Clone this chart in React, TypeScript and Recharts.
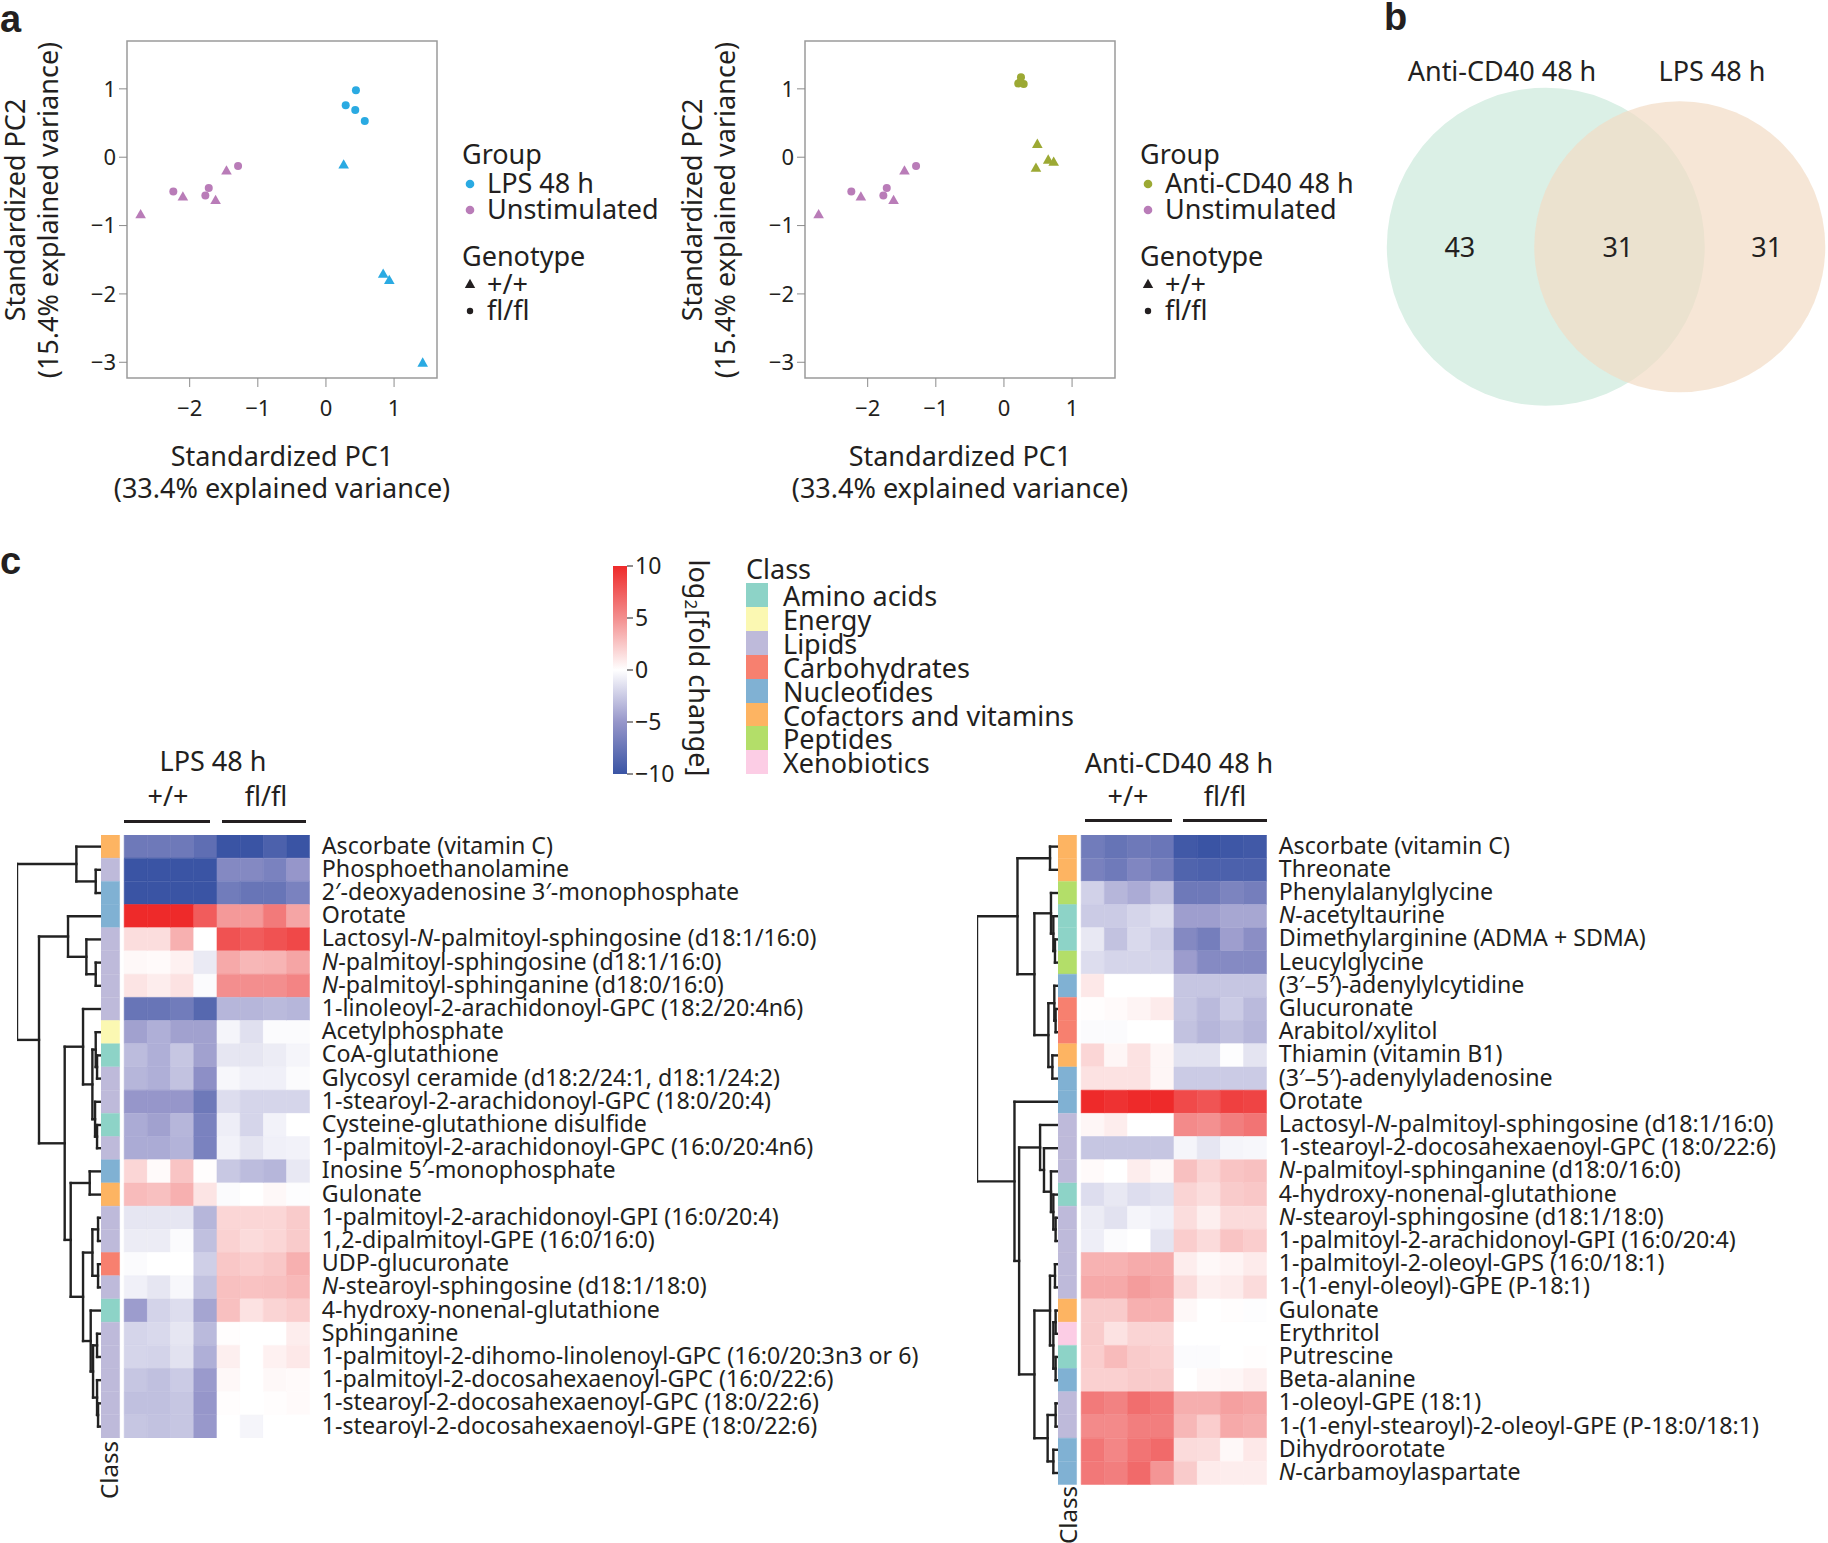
import React from "react";
import { ScatterChart, Scatter, XAxis, YAxis, ReferenceArea, ReferenceLine, BarChart, Bar, Cell } from "recharts";

const FONT = "'Noto Sans', 'DejaVu Sans', sans-serif";
const INK = "#231f20";
const BLUE = "#2aaae2";
const PURPLE = "#b97cb8";
const OLIVE = "#9ca934";

// ---------- a: PCA ----------
const pcaX: [number, number] = [-2.92, 1.63];
const pcaY: [number, number] = [-3.23, 1.7];
const pcaXTicks = [-2, -1, 0, 1];
const pcaYTicks = [-3, -2, -1, 0, 1];

const lpsWt = [{ x: 0.26, y: -0.11 }, { x: 0.84, y: -1.71 }, { x: 0.93, y: -1.8 }, { x: 1.42, y: -3.01 }];
const lpsFl = [{ x: 0.44, y: 0.98 }, { x: 0.29, y: 0.76 }, { x: 0.43, y: 0.69 }, { x: 0.57, y: 0.53 }];
const cd40Wt = [{ x: 0.49, y: 0.19 }, { x: 0.65, y: -0.04 }, { x: 0.73, y: -0.07 }, { x: 0.47, y: -0.16 }];
const cd40Fl = [{ x: 0.25, y: 1.17 }, { x: 0.21, y: 1.08 }, { x: 0.29, y: 1.07 }, { x: 0.24, y: 1.1 }];
const unstimWt = [{ x: -2.72, y: -0.84 }, { x: -2.1, y: -0.58 }, { x: -1.62, y: -0.63 }, { x: -1.46, y: -0.2 }];
const unstimFl = [{ x: -2.24, y: -0.5 }, { x: -1.72, y: -0.45 }, { x: -1.77, y: -0.56 }, { x: -1.29, y: -0.13 }];

// ---------- b: Venn ----------
const vennSets = [
  { name: "Anti-CD40 48 h", size: 74, cx: 0, color: "#dbf0e6", opacity: 1 },
  { name: "LPS 48 h", size: 62, cx: 7.25, color: "#f2dbc5", opacity: 0.7 },
];
const vennCounts = [
  { label: "43", x: -4.65 },
  { label: "31", x: 3.9 },
  { label: "31", x: 11.96 },
];

// ---------- c: heatmaps ----------
const classNames = ["Amino acids", "Energy", "Lipids", "Carbohydrates", "Nucleotides", "Cofactors and vitamins", "Peptides", "Xenobiotics"];
const classKeys = ["ami", "ene", "lip", "car", "nuc", "cof", "pep", "xen"];
const classColors = ["#8dd3c7", "#fbf8b2", "#bebada", "#f7806f", "#80b1d3", "#fdb462", "#b3de69", "#fccde5"];
const foldTicks = [-10, -5, 0, 5, 10];
const heatStops: [number, number[]][] = [
  [-10, [58, 84, 164]],
  [-5, [150, 150, 202]],
  [0, [255, 255, 255]],
  [5, [243, 142, 142]],
  [10, [238, 42, 42]],
];
const samples = ["wt1", "wt2", "wt3", "wt4", "fl1", "fl2", "fl3", "fl4"];

const lpsNames = [
  "Ascorbate (vitamin C)",
  "Phosphoethanolamine",
  "2\u2032-deoxyadenosine 3\u2032-monophosphate",
  "Orotate",
  "Lactosyl-N-palmitoyl-sphingosine (d18:1/16:0)",
  "N-palmitoyl-sphingosine (d18:1/16:0)",
  "N-palmitoyl-sphinganine (d18:0/16:0)",
  "1-linoleoyl-2-arachidonoyl-GPC (18:2/20:4n6)",
  "Acetylphosphate",
  "CoA-glutathione",
  "Glycosyl ceramide (d18:2/24:1, d18:1/24:2)",
  "1-stearoyl-2-arachidonoyl-GPC (18:0/20:4)",
  "Cysteine-glutathione disulfide",
  "1-palmitoyl-2-arachidonoyl-GPC (16:0/20:4n6)",
  "Inosine 5\u2032-monophosphate",
  "Gulonate",
  "1-palmitoyl-2-arachidonoyl-GPI (16:0/20:4)",
  "1,2-dipalmitoyl-GPE (16:0/16:0)",
  "UDP-glucuronate",
  "N-stearoyl-sphingosine (d18:1/18:0)",
  "4-hydroxy-nonenal-glutathione",
  "Sphinganine",
  "1-palmitoyl-2-dihomo-linolenoyl-GPC (16:0/20:3n3 or 6)",
  "1-palmitoyl-2-docosahexaenoyl-GPC (16:0/22:6)",
  "1-stearoyl-2-docosahexaenoyl-GPC (18:0/22:6)",
  "1-stearoyl-2-docosahexaenoyl-GPE (18:0/22:6)",
];
const lpsClasses = ["cof", "lip", "nuc", "nuc", "lip", "lip", "lip", "lip", "ene", "ami", "lip", "lip", "ami", "lip", "nuc", "cof", "lip", "lip", "car", "lip", "ami", "lip", "lip", "lip", "lip", "lip"];
const lpsValues = [
  [-7.2, -7.2, -7.2, -8, -10, -10, -9, -10],
  [-10, -10, -10, -10, -6, -6, -6.5, -5],
  [-10, -10, -10, -10, -7, -7.5, -7.5, -6.5],
  [10, 10, 10, 7.5, 4.5, 4.5, 6, 4],
  [1.5, 1.5, 3.5, 0, 8, 7.5, 8, 8.5],
  [0.3, 0.2, 0.6, -1, 3.8, 3.2, 3.3, 4],
  [1.2, 0.8, 1.3, -0.2, 5, 5, 5, 5.5],
  [-7.5, -7.5, -7, -8.5, -3.5, -3.5, -3.3, -3.5],
  [-4.5, -3.8, -4.5, -4.5, -0.5, -1.5, -0.2, -0.2],
  [-3.2, -3.8, -2.7, -4.5, -1.2, -1.2, -0.9, -0.5],
  [-3.5, -3.8, -2.9, -5.5, -0.4, -0.7, -0.7, -0.2],
  [-5, -5, -5, -7.2, -1.6, -2, -2, -2],
  [-4, -4.5, -3.5, -6.5, -0.8, -2, -0.6, 0],
  [-4, -4, -3.6, -6.5, -0.6, -1.3, -0.7, -0.6],
  [1.8, 0.2, 2.6, 0.1, -2.6, -3.2, -3.5, -1.1],
  [3, 2.8, 3.5, 1.2, -0.2, 0, 0.3, -0.1],
  [-1.2, -1.2, -1.2, -3.5, 1.8, 1.8, 1.8, 2.3],
  [-0.9, -0.9, -0.2, -3, 2, 1.6, 1.8, 2.3],
  [-0.2, 0, 0, -2.3, 2.5, 2.2, 2.5, 3.5],
  [-0.7, -1.2, -0.4, -2.9, 2.8, 2.7, 2.8, 3.1],
  [-4.7, -2.1, -1.6, -4.3, 2.8, 1.3, 1.9, 2.2],
  [-2, -1.8, -1.2, -3.3, 0.1, 0, 0, 0.8],
  [-2, -2.1, -1.4, -3.8, 0.7, 0, 0.6, 1],
  [-2.7, -3, -2.5, -4.8, 0.3, 0, 0.3, 0.2],
  [-3, -3, -2.7, -5, 0.1, 0, 0.1, 0.2],
  [-2.7, -2.9, -2.7, -4.9, 0, -0.5, 0, 0],
];

const cd40Names = [
  "Ascorbate (vitamin C)",
  "Threonate",
  "Phenylalanylglycine",
  "N-acetyltaurine",
  "Dimethylarginine (ADMA + SDMA)",
  "Leucylglycine",
  "(3\u2032\u20135\u2032)-adenylylcytidine",
  "Glucuronate",
  "Arabitol/xylitol",
  "Thiamin (vitamin B1)",
  "(3\u2032\u20135\u2032)-adenylyladenosine",
  "Orotate",
  "Lactosyl-N-palmitoyl-sphingosine (d18:1/16:0)",
  "1-stearoyl-2-docosahexaenoyl-GPC (18:0/22:6)",
  "N-palmitoyl-sphinganine (d18:0/16:0)",
  "4-hydroxy-nonenal-glutathione",
  "N-stearoyl-sphingosine (d18:1/18:0)",
  "1-palmitoyl-2-arachidonoyl-GPI (16:0/20:4)",
  "1-palmitoyl-2-oleoyl-GPS (16:0/18:1)",
  "1-(1-enyl-oleoyl)-GPE (P-18:1)",
  "Gulonate",
  "Erythritol",
  "Putrescine",
  "Beta-alanine",
  "1-oleoyl-GPE (18:1)",
  "1-(1-enyl-stearoyl)-2-oleoyl-GPE (P-18:0/18:1)",
  "Dihydroorotate",
  "N-carbamoylaspartate",
];
const cd40Classes = ["cof", "cof", "pep", "ami", "ami", "pep", "nuc", "car", "car", "cof", "nuc", "nuc", "lip", "lip", "lip", "ami", "lip", "lip", "lip", "lip", "cof", "xen", "ami", "nuc", "lip", "lip", "nuc", "nuc"];
const cd40Values = [
  [-7, -7.6, -7.2, -7.4, -9.6, -10, -9.8, -9.6],
  [-6.6, -7.1, -6.2, -6.8, -8.8, -9, -9, -9],
  [-2.2, -3.5, -4, -3, -7.2, -7.2, -6.4, -6.8],
  [-2.5, -2.5, -2, -1.6, -4.6, -4.6, -4.2, -4.2],
  [-1.1, -2.9, -1.8, -2.3, -6, -6.8, -4.6, -5.6],
  [-1.6, -2, -2, -2, -4.7, -5.9, -5.9, -5.9],
  [1, 0, 0, 0, -2.7, -2.7, -2.7, -2.7],
  [0.1, 0.2, 0.5, 0.9, -2.7, -3.3, -2.5, -3.3],
  [-0.2, -0.2, 0, 0, -2.9, -3.5, -3, -3.5],
  [1.8, 0.4, 1.3, 0.4, -1.4, -1.4, -0.1, -1.3],
  [1.3, 1.3, 1.3, 0.4, -2.5, -2.5, -2.5, -2.5],
  [10, 9.6, 10, 10, 8.4, 7.9, 8.9, 8.7],
  [0.4, 0.8, 0, 0, 5.2, 4.9, 5.8, 6.3],
  [-2.7, -2.7, -2.7, -2.7, -0.5, -1.2, -0.5, -0.4],
  [0.2, 0, 0.8, 0.3, 2.8, 1.9, 2.6, 2.8],
  [-1.6, -1.1, -1.6, -1.4, 1.9, 1.5, 2.3, 2.5],
  [-0.9, -1.4, -0.5, -0.7, 1.5, 0.7, 1.6, 1.6],
  [-0.8, -0.2, 0, -1.3, 2.2, 1.6, 2.6, 2.2],
  [3.4, 3.4, 3.7, 3.7, 0.8, 0.3, 0.5, 0.9],
  [3.8, 3.8, 4.4, 4, 1.6, 0.7, 0.9, 1.6],
  [2.3, 2.3, 3.5, 3.5, 0.3, 0, 0.1, -0.1],
  [2.3, 1.3, 1.9, 1.9, 0, 0, 0, 0],
  [2.2, 3, 2.3, 2.1, -0.2, -0.2, 0, 0.1],
  [2.1, 2.1, 2.3, 2.3, 0, 0.3, 0.4, 0.7],
  [6, 5.6, 6.6, 6.1, 3.6, 3.6, 4.2, 4],
  [5.2, 5.2, 5.8, 5.8, 3.2, 2.2, 3.8, 3.6],
  [6.2, 5.4, 6.3, 6.8, 1.6, 1.5, 0.3, 1],
  [6.1, 5.8, 6.8, 4.7, 2.3, 0.9, 0.8, 0.8],
];

// dendrograms: [merge height, left, right], leaves are row numbers
type Node = number | [number, Node, Node];
const lpsTree: Node = [10,
  [2.88, 1, [0.56, 2, 3]],
  [7.36,
    [3.88, 4, [1.68, 5, [0.56, 6, 7]]],
    [4.28,
      [2.08, 8, [0.96, [0.56, 9, [0.4, 10, 11]], [0.64, 12, [0.4, 13, 14]]]],
      [3.56,
        [1.28, 15, 16],
        [2.08,
          [0.96, [0.28, 17, 18], [0.28, 19, 20]],
          [1.16, 21, [0.88, [0.4, 22, 23], [0.4, 24, [0.28, 25, 26]]]]]]]]];
const cd40Tree: Node = [10,
  [5.02,
    [1.02, 1, 2],
    [2.94,
      [0.9, 3, [0.61, 4, [0.41, 5, 6]]],
      [1.22, [0.49, 7, [0.33, 8, 9]], [0.73, 10, 11]]]],
  [5.39, 12,
    [4.82,
      [2.24, 13, [1.76, 14, [0.9, 15, [0.61, 16, [0.33, 17, 18]]]]],
      [2.94,
        [1.02, [0.41, 19, 20], [0.61, [0.33, 21, 22], [0.33, 23, 24]]],
        [1.31, [0.33, 25, 26], [0.61, 27, 28]]]]]];

const ROW = 23.2;
const HEAT_TOP = 835;
const TXT = 27;

const minus = (v: number) => String(v).replace("-", "\u2212");

function heatColor(v: number) {
  const c = Math.max(-10, Math.min(10, v));
  for (let i = 0; i < heatStops.length - 1; i++) {
    const [a, ca] = heatStops[i];
    const [b, cb] = heatStops[i + 1];
    if (c <= b) {
      const t = (c - a) / (b - a);
      return `rgb(${ca.map((x, k) => Math.round(x + (cb[k] - x) * t)).join(",")})`;
    }
  }
  return "#fff";
}

function Txt({ x, y, children, size = TXT, anchor = "start", rotate = 0, weight = 400, family = FONT, lh = 1 }: any) {
  const tx = anchor === "middle" ? "-50%" : anchor === "end" ? "-100%" : "0";
  return (
    <div
      style={{
        position: "absolute", left: x, top: y, whiteSpace: "nowrap", lineHeight: lh,
        fontSize: size, fontWeight: weight, fontFamily: family, color: INK,
        transform: `translate(${tx}, -50%) rotate(${rotate}deg)`,
      }}
    >
      {children}
    </div>
  );
}

function Mark({ x, y, kind, color }: any) {
  return (
    <svg style={{ position: "absolute", left: x - 7, top: y - 7 }} width={14} height={14}>
      {kind === "dot" ? <circle cx={7} cy={7} r={4.3} fill={color} /> : <polygon points="7,1.8 1.8,11 12.2,11" fill={color} />}
    </svg>
  );
}

const dot = (color: string) => (p: any) => <circle cx={p.cx} cy={p.cy} r={4} fill={color} />;
const tri = (color: string) => (p: any) => (
  <polygon points={`${p.cx},${p.cy - 5.6} ${p.cx - 5.3},${p.cy + 3.7} ${p.cx + 5.3},${p.cy + 3.7}`} fill={color} />
);

function PcaPanel({ left, wt, fl, color }: any) {
  const tickStyle = { fontSize: 22, fill: INK, fontFamily: FONT };
  return (
    <div style={{ position: "absolute", left, top: 0 }}>
      <ScatterChart width={460} height={430} margin={{ top: 41, right: 23, bottom: 0, left: 0 }}>
        <XAxis type="number" dataKey="x" domain={pcaX} ticks={pcaXTicks} allowDataOverflow height={52}
          tickSize={9} tickMargin={13} axisLine={false} tickLine={{ stroke: "#8c8c8c" }} tick={tickStyle} tickFormatter={minus} />
        <YAxis type="number" dataKey="y" domain={pcaY} ticks={pcaYTicks} allowDataOverflow width={127}
          tickSize={8} tickMargin={3} axisLine={false} tickLine={{ stroke: "#8c8c8c" }} tick={tickStyle} tickFormatter={minus} />
        <ReferenceArea x1={pcaX[0]} x2={pcaX[1]} y1={pcaY[0]} y2={pcaY[1]} fill="none" stroke="#9b9b9b" strokeWidth={1.5} ifOverflow="visible" />
        <Scatter data={unstimWt} shape={tri(PURPLE)} isAnimationActive={false} />
        <Scatter data={unstimFl} shape={dot(PURPLE)} isAnimationActive={false} />
        <Scatter data={wt} shape={tri(color)} isAnimationActive={false} />
        <Scatter data={fl} shape={dot(color)} isAnimationActive={false} />
      </ScatterChart>
    </div>
  );
}

function PcaLegend({ x, stim, color }: any) {
  return (
    <>
      <Txt x={x} y={153}>Group</Txt>
      <Mark x={x + 8} y={184} kind="dot" color={color} />
      <Txt x={x + 25} y={182}>{stim}</Txt>
      <Mark x={x + 8} y={210} kind="dot" color={PURPLE} />
      <Txt x={x + 25} y={208}>Unstimulated</Txt>
      <Txt x={x} y={255}>Genotype</Txt>
      <Mark x={x + 8} y={284} kind="tri" color={INK} />
      <Txt x={x + 25} y={283}>+/+</Txt>
      <svg style={{ position: "absolute", left: x + 4, top: 307 }} width={8} height={8}><circle cx={4} cy={4} r={3.2} fill={INK} /></svg>
      <Txt x={x + 25} y={309}>fl/fl</Txt>
    </>
  );
}

const PX = 18.48;
const vennX: [number, number] = [-8.7, 15.2];
const vennY: [number, number] = [-8.7, 8.7];

function Venn() {
  const circles = vennSets.map((s) => ({ x: s.cx, y: 0, size: s.size, color: s.color, opacity: s.opacity }));
  const counts = vennCounts.map((c) => ({ x: c.x, y: 0, label: c.label }));
  return (
    <div style={{ position: "absolute", left: 1546 + vennX[0] * PX, top: 247 - vennY[1] * PX }}>
      <ScatterChart width={(vennX[1] - vennX[0]) * PX} height={(vennY[1] - vennY[0]) * PX} margin={{ top: 0, right: 0, bottom: 0, left: 0 }}>
        <XAxis type="number" dataKey="x" domain={vennX} hide allowDataOverflow />
        <YAxis type="number" dataKey="y" domain={vennY} hide allowDataOverflow />
        <Scatter data={circles} isAnimationActive={false}
          shape={(p: any) => <circle cx={p.cx} cy={p.cy} r={Math.sqrt(p.payload.size) * PX} fill={p.payload.color} fillOpacity={p.payload.opacity} />} />
        <Scatter data={counts} isAnimationActive={false}
          shape={(p: any) => (
            <text x={p.cx} y={p.cy} textAnchor="middle" dominantBaseline="central" fontSize={TXT} fontFamily={FONT} fill={INK}>{p.payload.label}</text>
          )} />
      </ScatterChart>
    </div>
  );
}

function RowLabel(props: any) {
  const { x, y, payload } = props;
  const parts = String(payload.value).split(/(\bN(?=-))/);
  return (
    <text x={x} y={y} dy="0.3em" textAnchor="start" fontSize={23.2} fontFamily={FONT} fill={INK}>
      {parts.map((p, i) => (p === "N" ? <tspan key={i} fontStyle="italic">N</tspan> : <tspan key={i}>{p}</tspan>))}
    </text>
  );
}

function Heatmap({ names, classes, values, left, labelWidth }: any) {
  const data = names.map((name: string, i: number) => ({ name, cls: classes[i], vals: values[i] }));
  return (
    <div style={{ position: "absolute", left, top: HEAT_TOP }}>
      <BarChart layout="vertical" width={9 * ROW + labelWidth} height={names.length * ROW} data={data}
        margin={{ top: 0, right: 0, bottom: 0, left: 0 }} barCategoryGap={0} barGap={0}>
        <XAxis type="number" domain={[0, 9]} hide allowDataOverflow />
        <YAxis type="category" dataKey="name" orientation="right" width={labelWidth} interval={0}
          axisLine={false} tickLine={false} tickSize={0} tickMargin={12} tick={RowLabel} />
        <Bar dataKey={() => 0.8} stackId="h" isAnimationActive={false}>
          {data.map((d: any, i: number) => {
            const c = classColors[classKeys.indexOf(d.cls)];
            return <Cell key={i} fill={c} stroke={c} strokeWidth={0.5} />;
          })}
        </Bar>
        <Bar dataKey={() => 0.2} stackId="h" fill="none" isAnimationActive={false} />
        {samples.map((s, j) => (
          <Bar key={s} dataKey={() => 1} stackId="h" isAnimationActive={false}>
            {data.map((d: any, i: number) => {
              const c = heatColor(d.vals[j]);
              return <Cell key={i} fill={c} stroke={c} strokeWidth={0.6} />;
            })}
          </Bar>
        ))}
      </BarChart>
    </div>
  );
}

function Dendrogram({ tree, n, left, width }: any) {
  const segs: { x: number; y: number }[][] = [];
  const walk = (node: Node): { y: number; h: number } => {
    if (typeof node === "number") return { y: node - 0.5, h: 0 };
    const [h, a, b] = node;
    const A = walk(a);
    const B = walk(b);
    segs.push([{ x: A.h, y: A.y }, { x: h, y: A.y }]);
    segs.push([{ x: h, y: A.y }, { x: h, y: B.y }]);
    segs.push([{ x: B.h, y: B.y }, { x: h, y: B.y }]);
    return { y: (A.y + B.y) / 2, h };
  };
  walk(tree);
  const leaves = Array.from({ length: n }, (_, i) => ({ x: 0, y: i + 0.5 }));
  return (
    <div style={{ position: "absolute", left, top: HEAT_TOP }}>
      <ScatterChart width={width} height={n * ROW} margin={{ top: 0, right: 0, bottom: 0, left: 0 }}>
        <XAxis type="number" dataKey="x" domain={[0, 10]} reversed hide allowDataOverflow />
        <YAxis type="number" dataKey="y" domain={[0, n]} reversed hide allowDataOverflow />
        <Scatter data={leaves} isAnimationActive={false} shape={() => <g />} />
        {segs.map((s, i) => (
          <ReferenceLine key={i} segment={s as any} stroke="#222" strokeWidth={2.4} strokeLinecap="square" ifOverflow="visible" />
        ))}
      </ScatterChart>
    </div>
  );
}

function ColorBar() {
  const gradStops = heatStops.map(([v, c]) => ({ offset: `${((10 - v) / 20) * 100}%`, color: `rgb(${c.join(",")})` }));
  return (
    <div style={{ position: "absolute", left: 613, top: 551 }}>
      <BarChart width={66} height={238} data={[{ span: [-10, 10] }]} margin={{ top: 15, right: 0, bottom: 15, left: 0 }} barCategoryGap={0}>
        <XAxis type="category" hide />
        <YAxis type="number" orientation="right" domain={[-10, 10]} ticks={foldTicks} interval={0} width={52} tickSize={6} tickMargin={2}
          axisLine={false} tickLine={{ stroke: INK }} tick={{ fontSize: 23, fill: INK, fontFamily: FONT }} tickFormatter={minus} />
        <Bar dataKey="span" isAnimationActive={false}
          shape={(p: any) => (
            <g>
              <defs>
                <linearGradient id="foldGrad" x1="0" y1="0" x2="0" y2="1">
                  {gradStops.slice().reverse().map((s, i) => <stop key={i} offset={s.offset} stopColor={s.color} />)}
                </linearGradient>
              </defs>
              <rect x={p.x} y={p.y} width={p.width} height={p.height} fill="url(#foldGrad)" />
            </g>
          )} />
      </BarChart>
    </div>
  );
}

function Underline({ x1, x2, y }: any) {
  return <div style={{ position: "absolute", left: x1, top: y - 1.5, width: x2 - x1, height: 3, background: INK }} />;
}

const LABEL_FONT = "'Liberation Sans', Arial, sans-serif";

export default function App() {
  return (
    <div style={{ position: "absolute", left: 0, top: 0, width: 1828, height: 1543, background: "#fff", overflow: "hidden", fontFamily: FONT }}>
      {/* panel labels */}
      <Txt x={0} y={19} size={38} weight={700} family={LABEL_FONT} lh={0.7}>a</Txt>
      <Txt x={1384} y={17} size={38} weight={700} family={LABEL_FONT} lh={0.7}>b</Txt>
      <Txt x={0} y={561} size={38} weight={700} family={LABEL_FONT} lh={0.7}>c</Txt>

      {/* a */}
      <PcaPanel left={0} wt={lpsWt} fl={lpsFl} color={BLUE} />
      <PcaPanel left={678} wt={cd40Wt} fl={cd40Fl} color={OLIVE} />
      <Txt x={14} y={210} rotate={-90} anchor="middle">Standardized PC2</Txt>
      <Txt x={47} y={210} rotate={-90} anchor="middle">(15.4% explained variance)</Txt>
      <Txt x={691} y={210} rotate={-90} anchor="middle">Standardized PC2</Txt>
      <Txt x={724} y={210} rotate={-90} anchor="middle">(15.4% explained variance)</Txt>
      <Txt x={282} y={455} anchor="middle">Standardized PC1</Txt>
      <Txt x={282} y={487} anchor="middle">(33.4% explained variance)</Txt>
      <Txt x={960} y={455} anchor="middle">Standardized PC1</Txt>
      <Txt x={960} y={487} anchor="middle">(33.4% explained variance)</Txt>
      <PcaLegend x={462} stim="LPS 48 h" color={BLUE} />
      <PcaLegend x={1140} stim="Anti-CD40 48 h" color={OLIVE} />

      {/* b */}
      <Venn />
      <Txt x={1502} y={70} anchor="middle">{vennSets[0].name}</Txt>
      <Txt x={1712} y={70} anchor="middle">{vennSets[1].name}</Txt>

      {/* c legends */}
      <ColorBar />
      <Txt x={698} y={668} rotate={90} anchor="middle" size={27}>
        log<sub style={{ fontSize: 17, verticalAlign: "-0.25em" }}>2</sub>[fold change]
      </Txt>
      <Txt x={746} y={568}>Class</Txt>
      {classNames.map((c, i) => (
        <React.Fragment key={c}>
          <div style={{ position: "absolute", left: 746, top: 583 + i * 23.9, width: 22, height: 24, background: classColors[i] }} />
          <Txt x={783} y={595 + i * 23.9}>{c}</Txt>
        </React.Fragment>
      ))}

      {/* c heatmaps */}
      <Txt x={213} y={760} anchor="middle">LPS 48 h</Txt>
      <Txt x={168} y={795} anchor="middle">+/+</Txt>
      <Txt x={266} y={795} anchor="middle">fl/fl</Txt>
      <Underline x1={124} x2={210} y={821} />
      <Underline x1={222} x2={306} y={821} />
      <Dendrogram tree={lpsTree} n={lpsNames.length} left={17.3} width={83.4} />
      <Heatmap names={lpsNames} classes={lpsClasses} values={lpsValues} left={100.8} labelWidth={620} />
      <Txt x={109} y={1470} rotate={-90} anchor="middle" size={24}>Class</Txt>

      <Txt x={1179} y={762} anchor="middle">Anti-CD40 48 h</Txt>
      <Txt x={1128} y={795} anchor="middle">+/+</Txt>
      <Txt x={1225} y={795} anchor="middle">fl/fl</Txt>
      <Underline x1={1085} x2={1172} y={820} />
      <Underline x1={1183} x2={1267} y={820} />
      <Dendrogram tree={cd40Tree} n={cd40Names.length} left={976.7} width={81.3} />
      <Heatmap names={cd40Names} classes={cd40Classes} values={cd40Values} left={1058} labelWidth={560} />
      <Txt x={1068} y={1515} rotate={-90} anchor="middle" size={24}>Class</Txt>
    </div>
  );
}
